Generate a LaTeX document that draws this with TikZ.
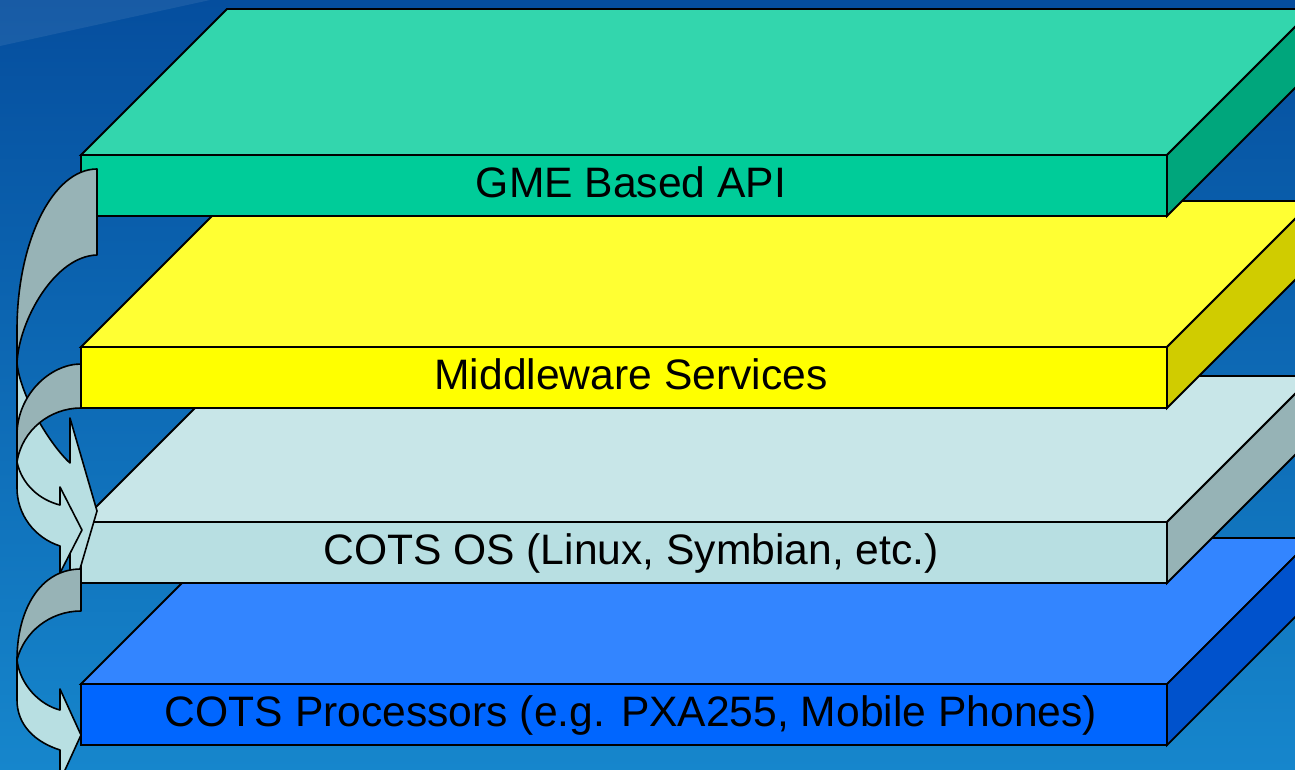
\documentclass[tikz,border=0pt]{standalone}
\usepackage{fontspec}
\setmainfont{Liberation Sans}
\definecolor{bgtop}{RGB}{5,78,158}
\definecolor{bgbot}{RGB}{22,134,204}
\definecolor{gTop}{HTML}{33D6AD}
\definecolor{gFront}{HTML}{00CC99}
\definecolor{gSide}{HTML}{00A67C}
\definecolor{yTop}{HTML}{FFFF33}
\definecolor{yFront}{HTML}{FFFF00}
\definecolor{ySide}{HTML}{D0CC00}
\definecolor{cTop}{HTML}{C8E6E8}
\definecolor{cFront}{HTML}{B8DFE2}
\definecolor{cSide}{HTML}{96B3B6}
\definecolor{bTop}{HTML}{3385FF}
\definecolor{bFront}{HTML}{0066FF}
\definecolor{bSide}{HTML}{0052CC}
\definecolor{arrDark}{HTML}{97B3B6}
\definecolor{arrLight}{HTML}{B8DFE2}
\tikzset{
  edge/.style={draw=black, line width=1.8pt, line join=miter},
  lbl/.style={anchor=base, inner sep=0pt, font=\fontsize{42.6}{51}\selectfont, text=black},
  arrback/.style={fill=arrDark, draw=black, line width=1.6pt, line join=round},
  arrfront/.style={fill=arrLight, draw=black, line width=1.6pt, line join=round},
}
\newcommand\slab[6]{%
  \path[edge, fill=#2] (81,#1) -- ++(146,-146) -- ++(1086,0) -- ++(-146,146) -- cycle;
  \path[edge, fill=#4] (1167,#1) -- ++(146,-146) -- ++(0,61) -- ++(-146,146) -- cycle;
  \path[edge, fill=#3] (81,#1) rectangle ++(1086,61);
  \node[lbl] (#5) at (631,#1+42) {#6};
}
\begin{document}
\begin{tikzpicture}[x=1pt,y=-1pt]
\useasboundingbox (0,0) rectangle (1295,770);
\clip (0,0) rectangle (1295,770);
\shade[top color=bgtop, bottom color=bgbot] (0,0) rectangle (1295,770);
\fill[white, opacity=0.08] (0,0) -- (210,0) -- (0,46) -- cycle;
% slabs, bottom to top
\slab{684}{bTop}{bFront}{bSide}{proc}{COTS Processors (e.g. PXA255, Mobile Phones)}
\slab{522}{cTop}{cFront}{cSide}{os}{COTS OS (Linux, Symbian, etc.)}
\slab{347}{yTop}{yFront}{ySide}{mid}{Middleware Services}
\slab{155}{gTop}{gFront}{gSide}{gme}{GME Based API}
% arrow A: GME -> COTS OS
\path[arrback] (97,169) .. controls (53,169) and (17,241) .. (17,330) -- (17,363)
  .. controls (19,320) and (55,256) .. (97,255) -- cycle;
\path[arrfront] (17,363) .. controls (20,395) and (50,445) .. (70,463) -- (70,418) -- (97,511)
  -- (70,603) -- (70,545) .. controls (55,530) and (17,505) .. (17,475) -- cycle;
% arrow B: Middleware -> COTS OS
\path[arrback] (81,364) .. controls (50,364) and (17,395) .. (17,435) -- (17,462)
  .. controls (22,430) and (50,408) .. (81,408) -- cycle;
\path[arrfront] (17,462) .. controls (22,485) and (40,500) .. (60,505) -- (60,487) -- (82,530)
  -- (60,573) -- (60,546) .. controls (35,538) and (17,515) .. (17,488) -- cycle;
% arrow C: COTS OS -> COTS Processors
\path[arrback] (81,569) .. controls (40,569) and (17,610) .. (17,660)
  .. controls (24,632) and (50,611) .. (81,611) -- cycle;
\path[arrfront] (17,660) .. controls (20,685) and (40,705) .. (60,710) -- (60,689) -- (81,735)
  -- (60,781) -- (60,750) .. controls (35,742) and (17,725) .. (17,700) -- cycle;
\end{tikzpicture}
\end{document}
